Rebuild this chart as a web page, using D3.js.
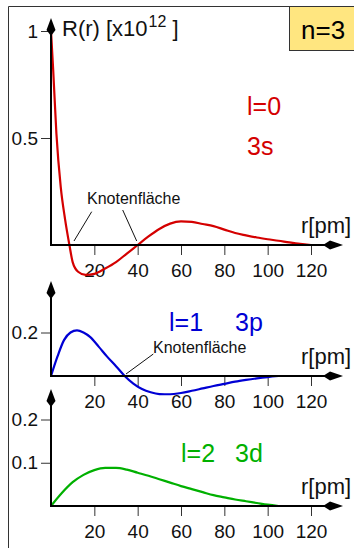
<!DOCTYPE html>
<html lang="de">
<head>
<meta charset="UTF-8">
<title>n=3</title>
<script src="https://cdn.jsdelivr.net/npm/d3@7"></script>
<style>
  body { margin: 0; background: #fff; }
  svg text { font-family: "Liberation Sans", Arial, sans-serif; }
</style>
</head>
<body>
<svg id="chart" width="354" height="548"></svg>
<script>
// values (r in pm, R in 10^12)
const r3s = [0, 1, 2.5, 4.5, 6.5, 8.5, 10, 12.5, 16, 20, 25, 30, 35, 40, 45, 50, 55, 60, 65, 70, 75, 80, 85, 90, 95, 100, 105, 110, 115, 120];
const v3s = [1.0, 0.82, 0.52, 0.27, 0.12, 0.0, -0.08, -0.125, -0.14, -0.135, -0.11, -0.08, -0.04, 0.0, 0.04, 0.075, 0.10, 0.11, 0.108, 0.098, 0.088, 0.072, 0.056, 0.045, 0.035, 0.027, 0.02, 0.012, 0.005, 0.0];

const r3p = [0, 3, 6, 9, 12, 15, 18, 22, 26, 30, 34, 38, 42, 46, 50, 55, 60, 65, 70, 75, 80, 85, 90, 95, 100, 105];
const v3p = [0, 0.09, 0.165, 0.2, 0.21, 0.2, 0.18, 0.135, 0.088, 0.045, 0.0, -0.035, -0.06, -0.075, -0.083, -0.084, -0.078, -0.068, -0.057, -0.046, -0.036, -0.026, -0.018, -0.011, -0.005, 0.0];

const r3d = [0, 5, 10, 15, 20, 25, 30, 35, 40, 45, 50, 55, 60, 65, 70, 75, 80, 85, 90, 95, 100, 105];
const v3d = [0, 0.03, 0.055, 0.072, 0.083, 0.088, 0.088, 0.084, 0.077, 0.07, 0.062, 0.054, 0.046, 0.039, 0.032, 0.025, 0.02, 0.015, 0.011, 0.007, 0.003, 0.0];

const xTicks = [20, 40, 60, 80, 100, 120];
const yTicks1 = [0.5, 1];
const yTicks2 = [0.2];
const yTicks3 = [0.1, 0.2];

const svg = d3.select('#chart');
const font = '"Liberation Sans", Arial, sans-serif';

// frame + n=3 box
svg.append('path').attr('d', 'M8.5 548V6.5H354').attr('fill', 'none').attr('stroke', '#333').attr('stroke-width', 1);
svg.append('rect').attr('x', 289.5).attr('y', 6.5).attr('width', 70).attr('height', 44)
  .attr('fill', '#ffe680').attr('stroke', '#333').attr('stroke-width', 1);
svg.append('text').attr('x', 301).attr('y', 39).attr('font-size', 26).attr('fill', '#000').text('n=3');

const x = d3.scaleLinear([0, 120], [51, 311]);

function drawPanel (rs, vs, yDomain, yRange, yTicks, arrowTop, color) {
  const y = d3.scaleLinear(yDomain, yRange);
  const y0 = y(0);
  const g = svg.append('g');

  // ticks via d3 axes, domain line removed
  g.append('g').attr('transform', `translate(0,${y0})`)
    .call(d3.axisBottom(x).tickValues(xTicks).tickSize(10).tickPadding(8.5))
    .call(a => a.select('.domain').remove())
    .call(a => a.selectAll('line').attr('stroke', '#333'))
    .call(a => a.selectAll('text').attr('font-size', 19).attr('font-family', font).attr('fill', '#111'));
  g.append('g').attr('transform', `translate(${x(0)},0)`)
    .call(d3.axisLeft(y).tickValues(yTicks).tickSize(10).tickPadding(3).tickFormat(d3.format('')))
    .call(a => a.select('.domain').remove())
    .call(a => a.selectAll('line').attr('stroke', '#333'))
    .call(a => a.selectAll('text').attr('font-size', 19).attr('font-family', font).attr('fill', '#111'));

  // the curve
  const line = d3.line().x((d, i) => x(rs[i])).y(d => y(d)).curve(d3.curveMonotoneX);
  g.append('path').attr('d', line(vs)).attr('fill', 'none')
    .attr('stroke', color).attr('stroke-width', 2.2);

  // axis lines with kite arrows
  const xa = x(0);
  g.append('path').attr('d', `M${xa - 1} ${y0}H335`).attr('stroke', '#000').attr('stroke-width', 2);
  g.append('path').attr('d', `M${xa} ${y0}V${arrowTop + 10}`).attr('stroke', '#000').attr('stroke-width', 2);
  g.append('path').attr('d', `M323 ${y0}L330 ${y0 - 4.5}L343 ${y0}L330 ${y0 + 4.5}Z`).attr('fill', '#000');
  g.append('path').attr('d', `M${xa} ${arrowTop}L${xa + 4.5} ${arrowTop + 12}L${xa} ${arrowTop + 18}L${xa - 4.5} ${arrowTop + 12}Z`).attr('fill', '#000');

  g.append('text').attr('x', 301).attr('y', y0 - 12).attr('font-size', 22).attr('fill', '#111').text('r[pm]');
  return y;
}

drawPanel(r3s, v3s, [0, 1], [245, 31], yTicks1, 18, '#d40000');
drawPanel(r3p, v3p, [0, 0.2], [376, 332.5], yTicks2, 281, '#0000d4');
drawPanel(r3d, v3d, [0, 0.2], [506, 419.5], yTicks3, 389, '#00b000');

// y title
const title = svg.append('text').attr('x', 62).attr('y', 35.5).attr('font-size', 22).attr('fill', '#111');
title.append('tspan').text('R(r) [x10');
title.append('tspan').attr('font-size', 16).attr('dy', -9).attr('dx', 1).text('12');
title.append('tspan').attr('dy', 9).text(' ]');

// orbital labels
svg.append('text').attr('x', 247).attr('y', 115).attr('font-size', 25).attr('fill', '#d40000').text('l=0');
svg.append('text').attr('x', 247).attr('y', 155).attr('font-size', 25).attr('fill', '#d40000').text('3s');
svg.append('text').attr('x', 169).attr('y', 331).attr('font-size', 25).attr('fill', '#0000d4').text('l=1');
svg.append('text').attr('x', 235).attr('y', 331).attr('font-size', 25).attr('fill', '#0000d4').text('3p');
svg.append('text').attr('x', 181).attr('y', 462).attr('font-size', 25).attr('fill', '#00b000').text('l=2');
svg.append('text').attr('x', 235).attr('y', 462).attr('font-size', 25).attr('fill', '#00b000').text('3d');

// Knotenfläche notes
svg.append('text').attr('x', 87).attr('y', 204).attr('font-size', 16).attr('fill', '#111').text('Knotenfläche');
svg.append('text').attr('x', 153).attr('y', 353).attr('font-size', 16).attr('fill', '#111').text('Knotenfläche');
const leader = [[91.7, 211.7, 74, 241], [122.7, 210, 136.7, 241], [153.3, 354, 126, 374]];
svg.selectAll('.leader').data(leader).enter().append('line')
  .attr('x1', d => d[0]).attr('y1', d => d[1]).attr('x2', d => d[2]).attr('y2', d => d[3])
  .attr('stroke', '#111').attr('stroke-width', 1);
</script>
</body>
</html>
